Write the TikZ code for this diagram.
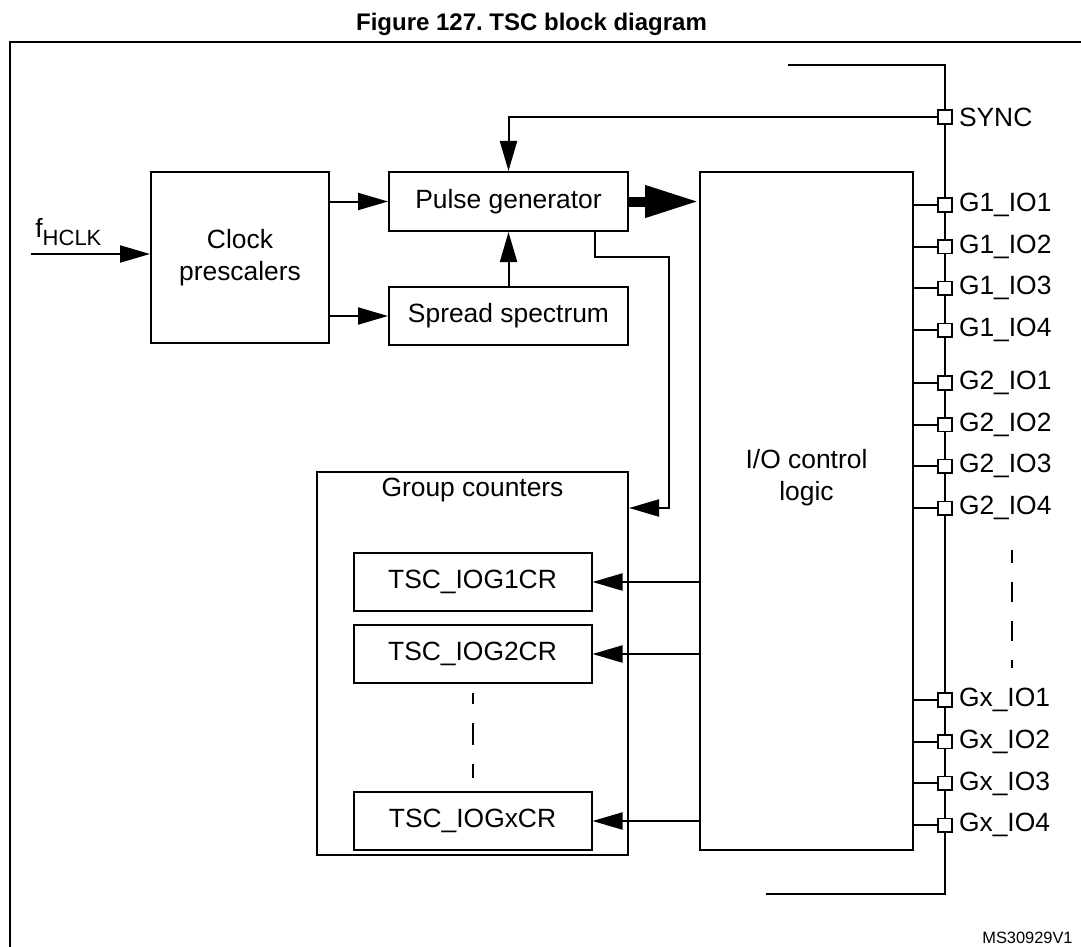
\documentclass[tikz,border=0pt]{standalone}
\usepackage{fontspec}
\setmainfont{Liberation Sans}
\usetikzlibrary{arrows.meta, positioning}
\newcommand{\letraBloque}{\fontsize{13.2}{16}\selectfont}
\frenchspacing

\begin{document}
\begin{tikzpicture}
	[
	x=0.5pt, y=-0.5pt,
	node distance=6pt and 29pt,
        bloque/.style={
            rectangle,
            draw,
            line width=1pt,
            inner sep=0pt,
            align=center,
            font=\letraBloque
        },
        pad/.style={
            rectangle,
            draw,
            fill=white,
            line width=0.8pt,
            inner sep=0pt,
            minimum size=6.8pt
        },
        etiqueta/.style={
            inner sep=0pt,
            font=\letraBloque
        },
        linea/.style={
            line width=1pt
        },
        flecha/.style={
            -{Triangle[length=15pt,width=8.5pt]},
            line width=1pt
        },
        flechaGruesa/.style={
            -{Triangle[length=27pt,width=15pt]},
            line width=5pt
        },
        puntos/.style={
            line width=1pt,
            dash pattern=on 11pt off 9.5pt
        }
    ]
    \useasboundingbox (0,0) rectangle (1081,947);

    % marco y titulo
    \draw[line width=1.2pt] (1081,42) -- (10,42) -- (10,947);
    \node(titulo) [anchor=base, inner sep=0pt, font=\fontsize{12}{14}\selectfont\bfseries] at (531.5,31) {Figure 127. TSC block diagram};
    \node(referencia) [anchor=base east, inner sep=0pt, font=\fontsize{8.2}{10}\selectfont] at (1073,943) {MS30929V1};

    % bloques
    \node(prescaler) [bloque, minimum width=89pt, minimum height=85.5pt] at (240,257.5) {Clock\\prescalers};
    \node(pulsos) [bloque, minimum width=119.5pt, minimum height=29.5pt, right=of prescaler.north east, anchor=north west] {Pulse generator};
    \node(espectro) [bloque, minimum width=119.5pt, minimum height=29pt, below=27pt of pulsos] {Spread spectrum};
    \node(controlIO) [bloque, minimum width=106.5pt, minimum height=339pt, right=35pt of pulsos.north east, anchor=north west] {};
    \node(textoIO) [etiqueta, align=center] at ([yshift=16.75pt]controlIO.center) {I/O control\\logic};

    \node(contadores) [bloque, minimum width=155.5pt, minimum height=191.5pt, below=62.5pt of espectro.south east, anchor=north east] {};
    \node(textoContadores) [etiqueta, below=3.5pt of contadores.north] {Group counters};
    \node(registro1) [bloque, minimum width=119pt, minimum height=29pt, below=40.5pt of contadores.north] {TSC\_IOG1CR};
    \node(registro2) [bloque, minimum width=119pt, minimum height=29pt, below=of registro1] {TSC\_IOG2CR};
    \node(registroX) [bloque, minimum width=119pt, minimum height=29pt, below=53.5pt of registro2] {TSC\_IOGxCR};
    \draw[puntos, dash phase=5.5pt] ([yshift=-4.5pt]registro2.south) -- ([yshift=6.5pt]registroX.north);

    % entrada de reloj
    \node(fhclk) [anchor=base west, inner sep=0pt, font=\letraBloque] at (35,237) {f\raisebox{-4pt}{\fontsize{11}{11}\selectfont HCLK}};
    \coordinate(entradaReloj) at (31,254);
    \draw[flecha] (entradaReloj) -- (entradaReloj -| prescaler.west);

    \draw[flecha] (prescaler.east |- pulsos.west) -- (pulsos.west);
    \draw[flecha] (prescaler.east |- espectro.west) -- (espectro.west);
    \draw[flecha] (espectro.north) -- (pulsos.south);
    \draw[flechaGruesa] (pulsos.east) -- (controlIO.west |- pulsos.east);

    \coordinate(codo) at (669,257);
    \draw[flecha] ([xshift=-17pt]pulsos.south east) |- (codo) |- (contadores.east |- 0,508);

    \draw[flecha] (controlIO.west |- registro1) -- (registro1.east);
    \draw[flecha] (controlIO.west |- registro2) -- (registro2.east);
    \draw[flecha] (controlIO.west |- registroX) -- (registroX.east);

    % bus de pines
    \coordinate(busArriba) at (788,65);
    \coordinate(busAbajo) at (766,894);
    \draw[linea] (busArriba) -| (945,894) -- (busAbajo);

    \node(pSync) [pad] at (945,117) {};
    \node(lSync) [etiqueta, right=3pt of pSync] {SYNC};
    \draw[flecha] (pSync.west) -| (pulsos.north);

    \foreach \g/\y in {1/205, 2/383, x/700} {
        \foreach \i in {1,...,4} {
            \node(p\g\i) [pad] at (945,{\y+(\i-1)*41.7}) {};
            \node(l\g\i) [etiqueta, right=3pt of p\g\i] {G\g\_IO\i};
            \draw[linea] (controlIO.east |- p\g\i) -- (p\g\i.west);
        }
    }
    \draw[puntos, dash pattern=on 10pt off 9.5pt, dash phase=3.5pt] (1012,550) -- (1012,668);
\end{tikzpicture}
\end{document}
